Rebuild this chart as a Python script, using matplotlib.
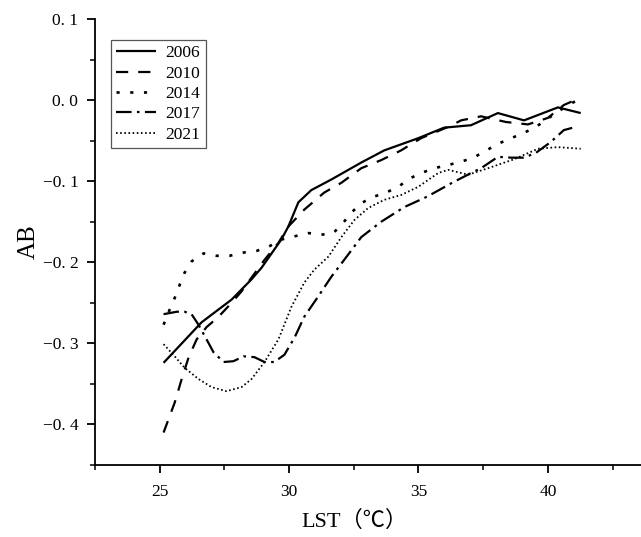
import matplotlib
matplotlib.use("Agg")
import matplotlib.pyplot as plt
from matplotlib.ticker import MultipleLocator, FixedLocator

# ---- data ----
x_2006 = [25.15, 26.62, 27.78, 28.55, 28.93, 29.70, 29.97, 30.36, 30.86, 31.63, 32.79,
          33.68, 34.99, 35.99, 37.03, 38.07, 39.08, 40.39, 41.27]
y_2006 = [-0.324, -0.274, -0.246, -0.221, -0.207, -0.172, -0.156, -0.126, -0.111, -0.098,
          -0.077, -0.062, -0.047, -0.034, -0.031, -0.016, -0.025, -0.009, -0.016]

x_2010 = [25.15, 25.58, 25.85, 26.12, 26.43, 26.81, 27.28, 27.78, 28.16, 29.05, 29.59,
          29.97, 30.59, 31.36, 32.02, 32.79, 33.56, 34.33, 35.10, 36.15, 36.65, 37.42,
          38.38, 39.23, 40.00, 40.62, 41.20]
y_2010 = [-0.410, -0.373, -0.344, -0.317, -0.295, -0.280, -0.267, -0.250, -0.236, -0.197,
          -0.176, -0.156, -0.135, -0.114, -0.102, -0.084, -0.074, -0.062, -0.047, -0.033,
          -0.025, -0.020, -0.027, -0.030, -0.022, -0.006, 0.002]

x_2014 = [25.15, 25.39, 25.58, 25.77, 25.96, 26.23, 26.70, 27.20, 27.70, 28.24, 28.74,
          29.20, 29.70, 30.21, 30.75, 31.25, 31.71, 32.10, 32.40, 32.79, 33.29, 33.75,
          34.22, 34.64, 35.10, 35.61, 36.15, 36.65, 37.11, 37.53, 38.00, 38.50, 39.04,
          39.54, 40.04, 40.50, 41.08]
y_2014 = [-0.277, -0.258, -0.244, -0.228, -0.213, -0.199, -0.189, -0.192, -0.192, -0.188,
          -0.186, -0.181, -0.172, -0.168, -0.164, -0.166, -0.164, -0.151, -0.139, -0.127,
          -0.119, -0.114, -0.107, -0.097, -0.090, -0.084, -0.080, -0.076, -0.071, -0.064,
          -0.055, -0.048, -0.041, -0.033, -0.022, -0.012, -0.001]

x_2017 = [25.15, 25.66, 25.96, 26.23, 26.50, 26.81, 27.08, 27.47, 27.85, 28.24, 28.66,
          29.05, 29.43, 29.82, 30.21, 30.59, 31.13, 31.63, 32.13, 32.79, 33.56, 34.45,
          35.34, 36.30, 37.03, 37.42, 38.07, 38.58, 39.08, 39.54, 40.10, 40.62, 40.97]
y_2017 = [-0.264, -0.261, -0.261, -0.264, -0.277, -0.295, -0.311, -0.323, -0.322, -0.316,
          -0.317, -0.323, -0.323, -0.314, -0.293, -0.267, -0.242, -0.218, -0.197, -0.169,
          -0.150, -0.132, -0.119, -0.102, -0.090, -0.084, -0.070, -0.071, -0.071, -0.065,
          -0.052, -0.037, -0.034]

x_2021 = [25.15, 25.58, 25.96, 26.50, 27.01, 27.58, 28.16, 28.55, 29.05, 29.59, 30.09,
          30.59, 30.98, 31.52, 32.02, 32.52, 33.06, 33.68, 34.33, 34.99, 35.76, 36.15,
          36.92, 37.69, 38.69, 39.62, 40.39, 41.27]
y_2021 = [-0.301, -0.316, -0.330, -0.344, -0.354, -0.359, -0.354, -0.344, -0.323, -0.295,
          -0.255, -0.225, -0.209, -0.193, -0.169, -0.148, -0.133, -0.123, -0.117, -0.107,
          -0.090, -0.086, -0.092, -0.084, -0.073, -0.060, -0.058, -0.060]

series_labels = ["2006", "2010", "2014", "2017", "2021"]
xtick_values = [25, 30, 35, 40]
xtick_labels = ["25", "30", "35", "40"]
ytick_values = [-0.4, -0.3, -0.2, -0.1, 0.0, 0.1]
ytick_labels = ["\u22120. 4", "\u22120. 3", "\u22120. 2", "\u22120. 1", "0. 0", "0. 1"]
x_label = "LST\uff08\u2103\uff09"
y_label = "AB"

# ---- styling ----
serif = ["Liberation Serif", "Noto Sans CJK SC", "DejaVu Serif"]
plt.rcParams["font.family"] = serif
plt.rcParams["axes.unicode_minus"] = True

fig = plt.figure(figsize=(6.41, 5.37), dpi=100)
W, H = 641, 537
ax = fig.add_axes([95 / W, (H - 465) / H, (641 - 95) / W, (465 - 19) / H])

styles = [
    dict(linestyle="-", lw=1.6),
    dict(linestyle=(0, (5.5, 4.5)), lw=1.6),
    dict(linestyle=(0, (1.2, 4.0)), lw=1.9),
    dict(linestyle=(0, (7.0, 2.4, 1.2, 2.4)), lw=1.6),
    dict(linestyle=(0, (0.9, 1.4)), lw=1.3),
]
xs = [x_2006, x_2010, x_2014, x_2017, x_2021]
ys = [y_2006, y_2010, y_2014, y_2017, y_2021]
for x, y, lab, st in zip(xs, ys, series_labels, styles):
    ax.plot(x, y, color="black", label=lab, solid_capstyle="butt",
            dash_capstyle="butt", **st)

ax.set_xlim(22.5, 43.6)
ax.set_ylim(-0.45, 0.1)

ax.spines["top"].set_visible(False)
ax.spines["right"].set_visible(False)
for s in ("left", "bottom"):
    ax.spines[s].set_linewidth(1.3)

ax.xaxis.set_major_locator(FixedLocator(xtick_values))
ax.set_xticklabels(xtick_labels)
ax.xaxis.set_minor_locator(MultipleLocator(2.5))
ax.yaxis.set_major_locator(FixedLocator(ytick_values))
ax.set_yticklabels(ytick_labels)
ax.yaxis.set_minor_locator(MultipleLocator(0.05))

ax.tick_params(which="major", direction="out", length=6, width=1.3, labelsize=12.5, pad=8)
ax.tick_params(which="minor", direction="out", length=3.5, width=1.1)
ax.tick_params(axis="y", pad=6)

ax.set_xlabel(x_label, fontsize=16, family=serif)
ax.xaxis.set_label_coords((355 - 95) / 546, -0.102)
ax.set_ylabel(y_label, fontsize=18, family=serif)
ax.yaxis.set_label_coords(-0.102, 0.5)

leg = ax.legend(loc="upper left", bbox_to_anchor=(111 / W, 1 - 40 / H),
                bbox_transform=fig.transFigure, fontsize=12.5, frameon=True,
                fancybox=False, edgecolor="#555555", framealpha=1,
                handlelength=2.3, handletextpad=0.55, labelspacing=0.24,
                borderpad=0.3, borderaxespad=0)
leg.get_frame().set_linewidth(0.9)

fig.savefig("out.png", dpi=100)
